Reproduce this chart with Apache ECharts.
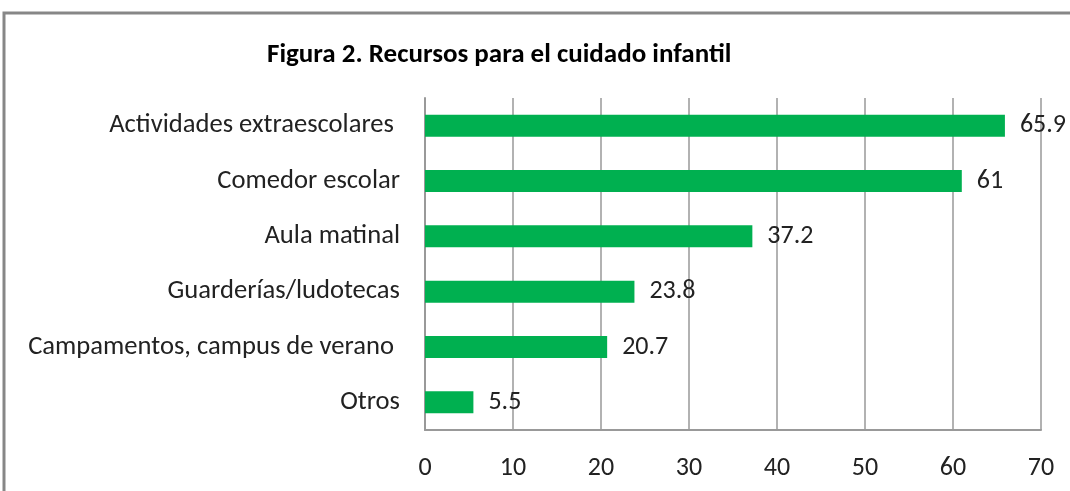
<!DOCTYPE html>
<html>
<head>
<meta charset="utf-8">
<script src="https://cdn.jsdelivr.net/npm/echarts@6/dist/echarts.min.js"></script>
<style>
  html, body { margin: 0; padding: 0; background: #fff; }
  #chart { width: 1070px; height: 491px; }
</style>
</head>
<body>
<div id="chart"></div>
<script>
// categories from bottom to top (category axis draws first item at bottom)
const categories = ['Otros', 'Campamentos, campus de verano ', 'Guarderías/ludotecas', 'Aula matinal', 'Comedor escolar', 'Actividades extraescolares ']
const values = [5.5, 20.7, 23.8, 37.2, 61, 65.9]
const axisMin = 0
const axisMax = 70
const axisStep = 10

const labelFont = 'Carlito, "Liberation Sans Narrow", "Open Sans", sans-serif'

const chart = echarts.init(document.getElementById('chart'))
chart.setOption({
  animation: false,
  title: {
    text: 'Figura 2. Recursos para el cuidado infantil',
    left: 262,
    top: 37,
    textStyle: {
      fontFamily: labelFont,
      fontWeight: 'bold',
      fontSize: 27,
      color: '#000'
    }
  },
  graphic: [
    {
      type: 'rect',
      shape: { x: 4, y: 13, width: 1100, height: 520 },
      style: { fill: 'none', stroke: '#878787', lineWidth: 3 }
    }
  ],
  grid: { left: 425, top: 98, right: 29, bottom: 61 },
  xAxis: {
    type: 'value',
    min: axisMin,
    max: axisMax,
    interval: axisStep,
    axisLine: { show: true, lineStyle: { color: '#999', width: 2 } },
    axisTick: { show: false },
    splitLine: { show: true, lineStyle: { color: '#999', width: 1.5 } },
    axisLabel: { fontFamily: labelFont, fontSize: 26, color: '#222', margin: 25 }
  },
  yAxis: {
    type: 'category',
    data: categories,
    axisLine: { show: true, lineStyle: { color: '#999', width: 2 } },
    axisTick: { show: false },
    axisLabel: { fontFamily: labelFont, fontSize: 26.6, color: '#222', margin: 25 }
  },
  series: [
    {
      type: 'bar',
      data: values,
      barWidth: 22,
      itemStyle: { color: '#00B050' },
      label: {
        show: true,
        position: 'right',
        distance: 15,
        fontFamily: labelFont,
        fontSize: 26,
        color: '#222'
      }
    }
  ]
})
</script>
</body>
</html>
